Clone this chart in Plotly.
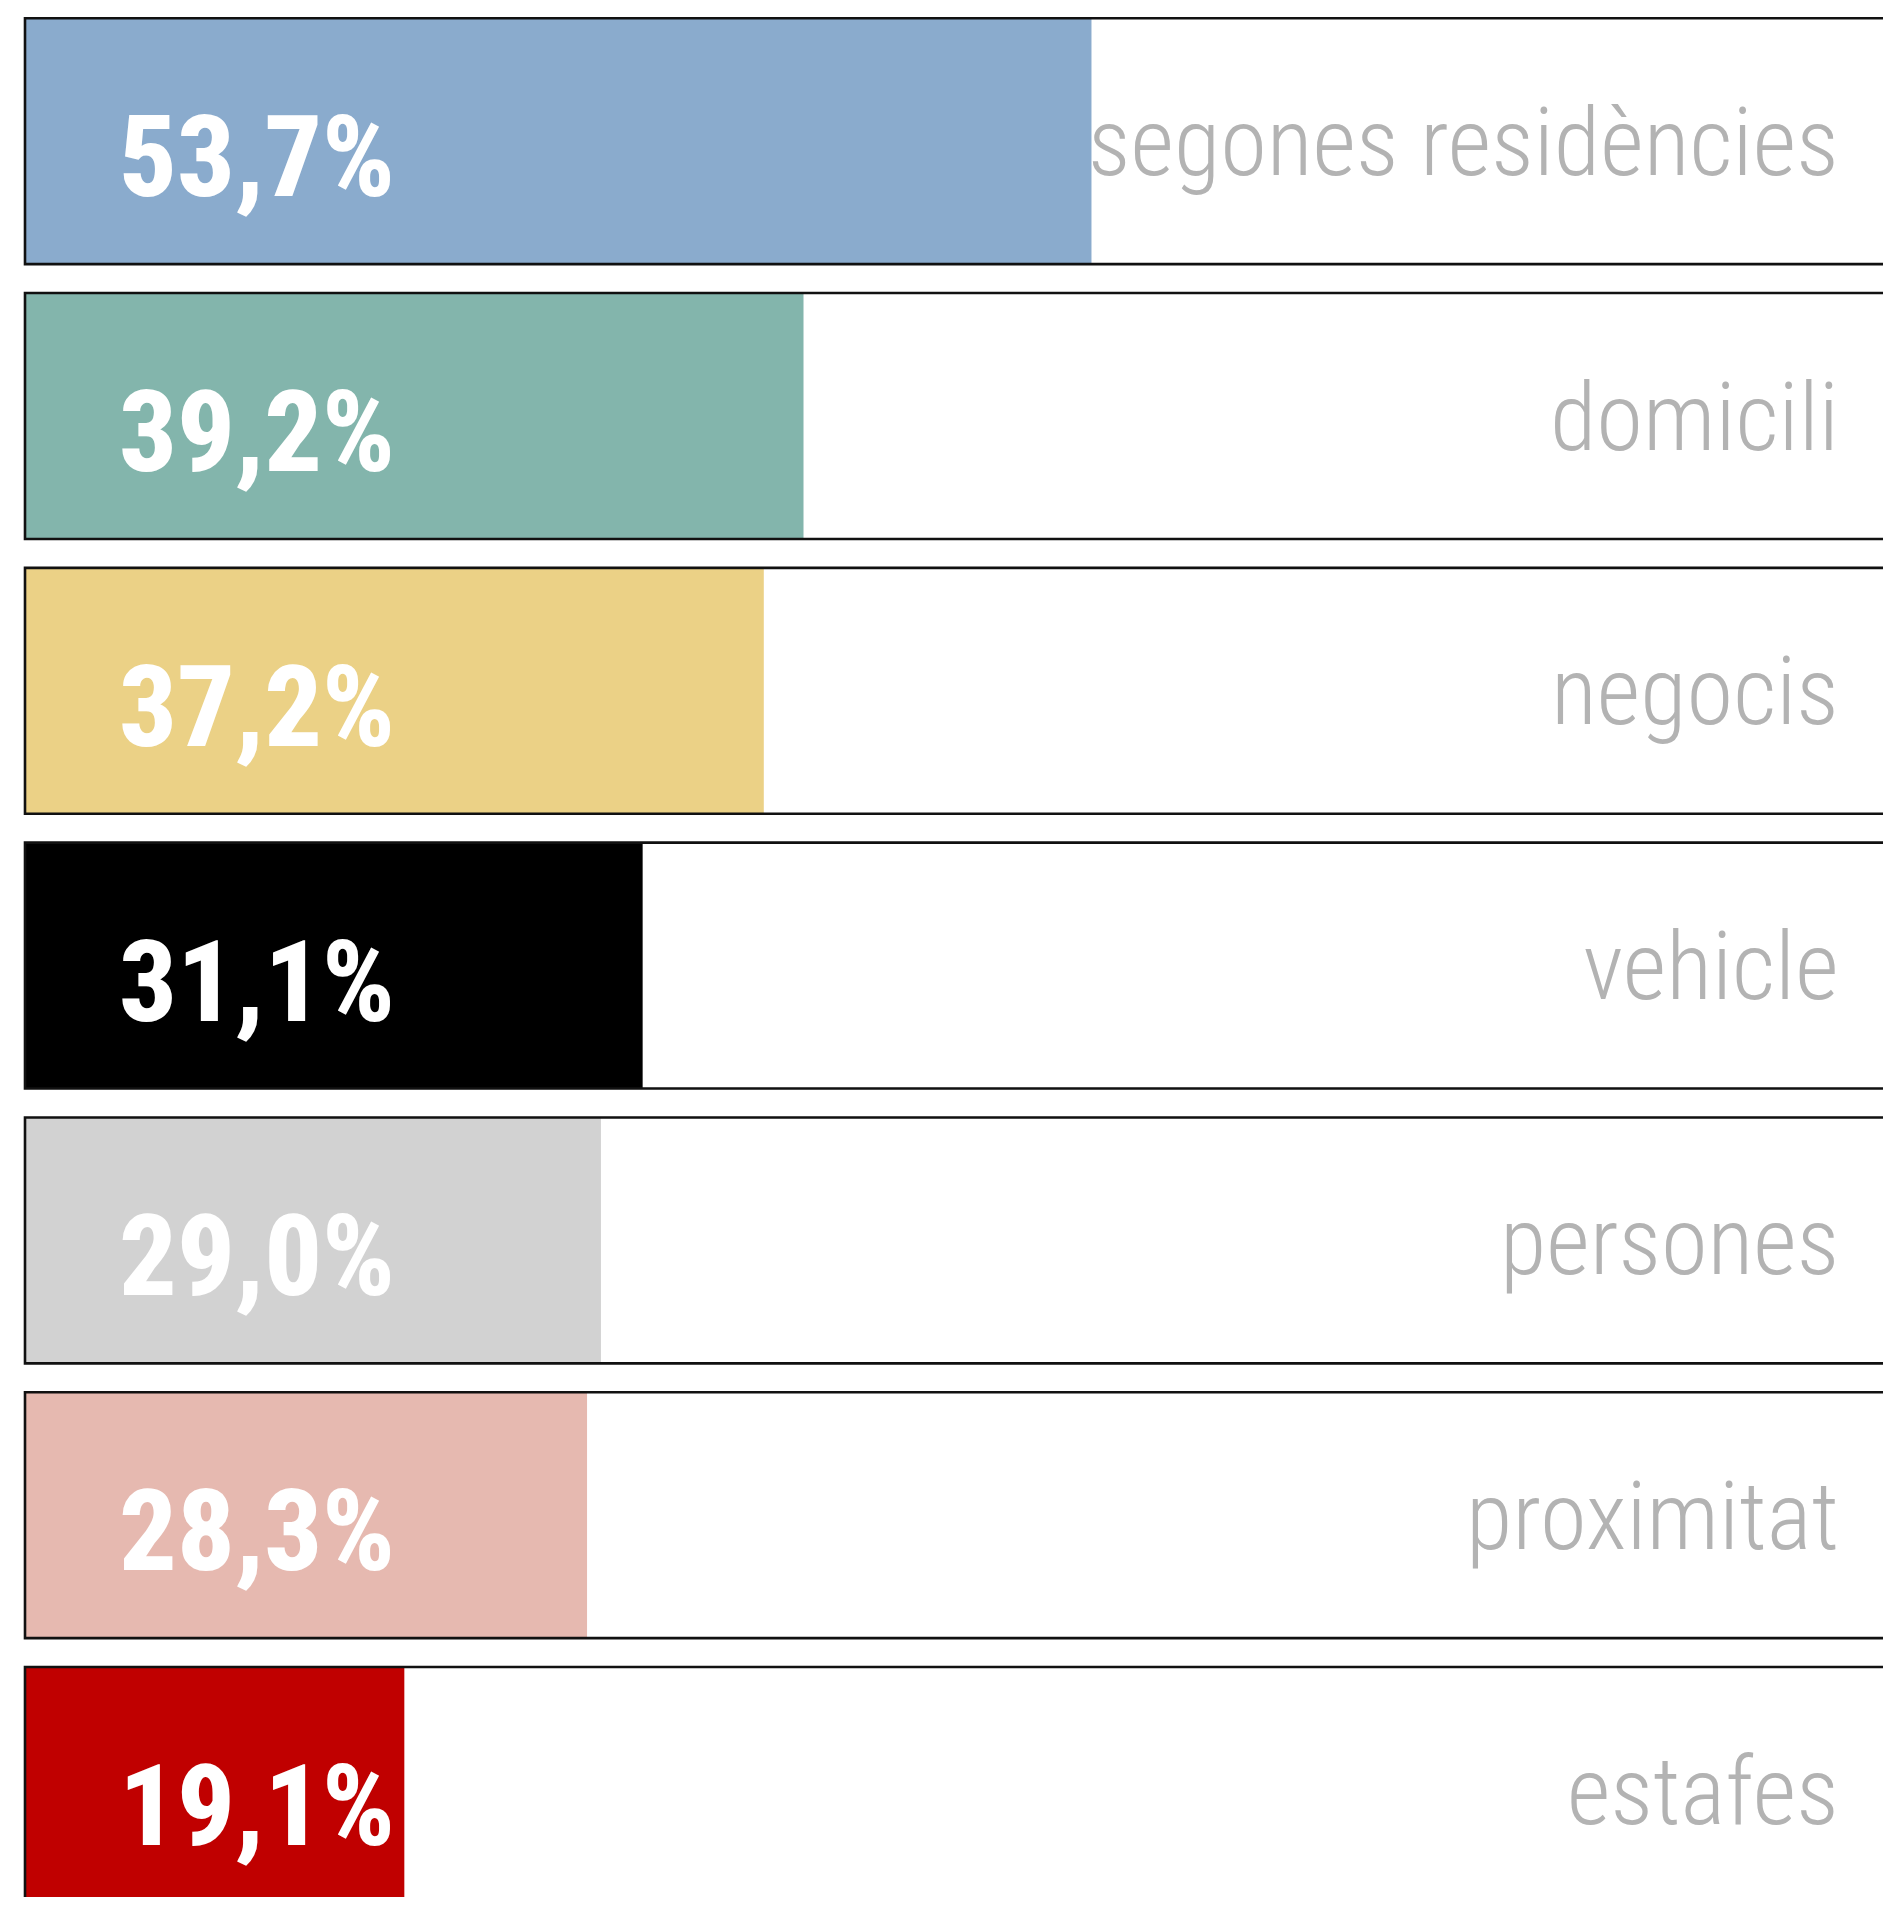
import plotly.graph_objects as go

categories = ["segones residències", "domicili", "negocis", "vehicle",
              "persones", "proximitat", "estafes"]
values = [53.7, 39.2, 37.2, 31.1, 29.0, 28.3, 19.1]
value_labels = ["53,7%", "39,2%", "37,2%", "31,1%", "29,0%", "28,3%", "19,1%"]
colors = ["#8aabcd", "#83b5ac", "#ebd186", "#000000", "#d2d2d2", "#e6b9b0", "#c00000"]
total = [100] * len(categories)

# figure is sized so that it fits the window together with the page's 8px body margin
W, H = 1875, 1889
px_per_unit = 19.86
left_px = 17
row_pitch = 274.8
first_center = 133.2

fig = go.Figure()
# white row backgrounds
fig.add_trace(go.Bar(x=total, y=categories, orientation="h", width=0.895,
                     marker=dict(color="white", line=dict(width=0)),
                     hoverinfo="skip", showlegend=False))
# coloured value bars
fig.add_trace(go.Bar(x=values, y=categories, orientation="h", width=0.895,
                     marker=dict(color=colors, line=dict(width=0)),
                     hoverinfo="skip", showlegend=False))
# black outlines of each row
fig.add_trace(go.Bar(x=total, y=categories, orientation="h", width=0.895,
                     marker=dict(color="rgba(0,0,0,0)", line=dict(width=2.6, color="#111111")),
                     hoverinfo="skip", showlegend=False))

for cat, lab in zip(categories, value_labels):
    fig.add_annotation(x=0, y=cat, xref="x", yref="y", xanchor="left", yanchor="middle",
                       xshift=92, yshift=-16, showarrow=False, text=lab,
                       font=dict(family="Roboto Condensed, Open Sans Condensed, sans-serif",
                                 size=114, weight=800, color="white"))
    fig.add_annotation(x=1, y=cat, xref="paper", yref="y", xanchor="right", yanchor="middle",
                       xshift=-42, yshift=-1, showarrow=False, text=cat,
                       font=dict(family="Roboto Condensed, Open Sans Condensed Light, sans-serif",
                                 size=95, weight=300, color="#b3b3b3"))

x0 = -left_px / px_per_unit
x1 = (W - left_px) / px_per_unit
y_top = -first_center / row_pitch
y_bot = y_top + H / row_pitch

fig.update_xaxes(range=[x0, x1], visible=False, fixedrange=True)
fig.update_yaxes(type="category", categoryorder="array", categoryarray=categories,
                 range=[y_bot, y_top], visible=False, fixedrange=True)
fig.update_layout(width=W, height=H, margin=dict(l=0, r=0, t=0, b=0),
                  barmode="overlay", plot_bgcolor="white", paper_bgcolor="white",
                  showlegend=False)
fig.write_html("out.html", config={"displayModeBar": False})
